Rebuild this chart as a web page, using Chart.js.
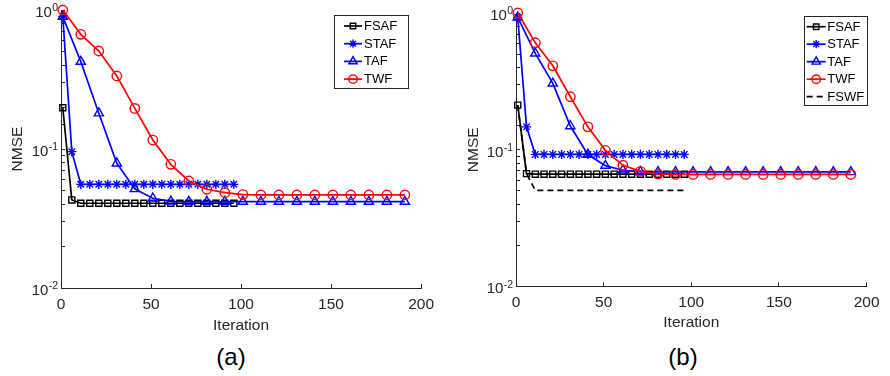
<!DOCTYPE html>
<html>
<head>
<meta charset="utf-8">
<script src="https://cdn.jsdelivr.net/npm/chart.js@4/dist/chart.umd.min.js"></script>
<style>
  html, body { margin: 0; padding: 0; background: #ffffff; }
  #wrap { position: relative; width: 890px; height: 376px; overflow: hidden; }
  canvas { position: absolute; top: 0; }
  .cap { position: absolute; font-family: "Liberation Sans", Arial, sans-serif; font-size: 24px; color: #000; transform: translate(-50%, -50%); white-space: nowrap; }
</style>
</head>
<body>
<div id="wrap">
  <canvas id="chartA" width="445" height="340" style="left:0px"></canvas>
  <canvas id="chartB" width="445" height="340" style="left:445px"></canvas>
  <div class="cap" style="left:231px; top:357px">(a)</div>
  <div class="cap" style="left:683px; top:357px">(b)</div>
</div>
<script>
// ---------------- data ----------------
const fastIter = [1, 6, 11, 16, 21, 26, 31, 36, 41, 46, 51, 56, 61, 66, 71, 76, 81, 86, 91, 96];
const slowIter = [1, 11, 21, 31, 41, 51, 61, 71, 81, 91, 101, 111, 121, 131, 141, 151, 161, 171, 181, 191];
const xTicks = [0, 50, 100, 150, 200];
const yTickValues = [0.01, 0.1, 1];
const yTickBases = ['10', '10', '10'];
const yTickExponents = ['-2', '-1', '0'];
const seriesNamesA = ['FSAF', 'STAF', 'TAF', 'TWF'];
const seriesNamesB = ['FSAF', 'STAF', 'TAF', 'TWF', 'FSWF'];

// (a)
const fsafA = [0.198, 0.0430, 0.0407, 0.0407, 0.0407, 0.0407, 0.0407, 0.0407, 0.0407, 0.0407, 0.0407, 0.0407, 0.0407, 0.0407, 0.0407, 0.0407, 0.0407, 0.0407, 0.0407, 0.0407];
const stafA = [0.90, 0.0957, 0.0557, 0.0557, 0.0557, 0.0557, 0.0557, 0.0557, 0.0557, 0.0557, 0.0557, 0.0557, 0.0557, 0.0557, 0.0557, 0.0557, 0.0557, 0.0557, 0.0557, 0.0557];
const tafA  = [0.895, 0.425, 0.181, 0.0789, 0.0516, 0.0442, 0.0420, 0.0418, 0.0418, 0.0418, 0.0418, 0.0418, 0.0418, 0.0418, 0.0418, 0.0418, 0.0418, 0.0418, 0.0418, 0.0418];
const twfA  = [1.0, 0.668, 0.507, 0.335, 0.196, 0.116, 0.0776, 0.0589, 0.0513, 0.0485, 0.0470, 0.0467, 0.0467, 0.0467, 0.0467, 0.0467, 0.0467, 0.0467, 0.0467, 0.0467];

// (b)
const fsafB = [0.212, 0.0669, 0.0663, 0.0663, 0.0663, 0.0663, 0.0663, 0.0663, 0.0663, 0.0663, 0.0663, 0.0663, 0.0663, 0.0663, 0.0663, 0.0663, 0.0663, 0.0663, 0.0663, 0.0663];
const stafB = [0.93, 0.147, 0.0925, 0.0925, 0.0925, 0.0925, 0.0925, 0.0925, 0.0925, 0.0925, 0.0925, 0.0925, 0.0925, 0.0925, 0.0925, 0.0925, 0.0925, 0.0925, 0.0925, 0.0925];
const tafB  = [0.93, 0.507, 0.306, 0.149, 0.0922, 0.0765, 0.0708, 0.0690, 0.0688, 0.0688, 0.0688, 0.0688, 0.0688, 0.0688, 0.0688, 0.0688, 0.0688, 0.0688, 0.0688, 0.0688];
const twfB  = [1.0, 0.606, 0.411, 0.244, 0.147, 0.099, 0.077, 0.0695, 0.0665, 0.0660, 0.0660, 0.0660, 0.0660, 0.0660, 0.0660, 0.0660, 0.0660, 0.0660, 0.0660, 0.0660];
const fswfB = [0.212, 0.0669, 0.0505, 0.0505, 0.0505, 0.0505, 0.0505, 0.0505, 0.0505, 0.0505, 0.0505, 0.0505, 0.0505, 0.0505, 0.0505, 0.0505, 0.0505, 0.0505, 0.0505, 0.0505];

// ---------------- styles ----------------
const FONT = '"Liberation Sans", Arial, Helvetica, sans-serif';
const AXIS = '#262626';
const STYLE = {
  FSAF: { color: '#000000', pointStyle: 'rect', radius: 4.3, dash: [] },
  STAF: { color: '#0000ff', pointStyle: 'star', radius: 4.6, dash: [] },
  TAF:  { color: '#0000ff', pointStyle: 'triangle', radius: 5.3, dash: [] },
  TWF:  { color: '#ff0000', pointStyle: 'circle', radius: 4.7, dash: [] },
  FSWF: { color: '#000000', pointStyle: 'circle', radius: 0, dash: [6, 4] }
};

function makeDataset(name, xs, ys, order) {
  const s = STYLE[name];
  return {
    label: name,
    data: xs.map((x, i) => ({ x: x, y: ys[i] })),
    borderColor: s.color,
    backgroundColor: 'rgba(0,0,0,0)',
    borderWidth: 1.7,
    borderDash: s.dash,
    pointStyle: s.pointStyle,
    pointRadius: s.radius,
    pointHoverRadius: s.radius,
    pointBorderWidth: 1.4,
    pointBorderColor: s.color,
    pointBackgroundColor: 'rgba(0,0,0,0)',
    tension: 0,
    clip: false,
    order: order
  };
}

// custom boxed legend drawn inside the plot (MATLAB style)
const boxLegend = {
  id: 'boxLegend',
  afterDatasetsDraw(chart, args, o) {
    if (!o || !o.names) return;
    const ctx = chart.ctx;
    ctx.save();
    ctx.fillStyle = '#ffffff';
    ctx.fillRect(o.x, o.y, o.w, o.h);
    ctx.strokeStyle = AXIS;
    ctx.lineWidth = 1;
    ctx.strokeRect(Math.round(o.x) + 0.5, Math.round(o.y) + 0.5, Math.round(o.w), Math.round(o.h));
    o.names.forEach((nm, i) => {
      const ds = chart.data.datasets.find(d => d.label === nm);
      const y = o.y + o.first + i * o.row;
      ctx.strokeStyle = ds.borderColor;
      ctx.lineWidth = ds.borderWidth;
      ctx.setLineDash(ds.borderDash || []);
      ctx.beginPath();
      ctx.moveTo(o.lx0, y);
      ctx.lineTo(o.lx1, y);
      ctx.stroke();
      ctx.setLineDash([]);
      if (ds.pointRadius > 0) {
        ctx.strokeStyle = ds.pointBorderColor;
        ctx.fillStyle = 'rgba(0,0,0,0)';
        ctx.lineWidth = ds.pointBorderWidth;
        Chart.helpers.drawPoint(ctx, { pointStyle: ds.pointStyle, radius: ds.pointRadius * 0.9, borderWidth: ds.pointBorderWidth, rotation: 0 }, (o.lx0 + o.lx1) / 2, y);
      }
      ctx.fillStyle = '#000000';
      ctx.font = '13px ' + FONT;
      ctx.textAlign = 'left';
      ctx.textBaseline = 'middle';
      ctx.fillText(nm, o.tx, y + 0.5);
    });
    ctx.restore();
  }
};

// y tick labels as 10 with a raised exponent, positioned by the library's log scale
const powerLabels = {
  id: 'powerLabels',
  afterDraw(chart) {
    const scale = chart.scales.y;
    const ctx = chart.ctx;
    ctx.save();
    ctx.fillStyle = AXIS;
    ctx.textAlign = 'right';
    ctx.textBaseline = 'alphabetic';
    yTickValues.forEach((v, i) => {
      const y = scale.getPixelForValue(v);
      const xr = scale.right - 3;
      ctx.font = '10.5px ' + FONT;
      const ew = ctx.measureText(yTickExponents[i]).width;
      ctx.fillText(yTickExponents[i], xr, y + 1);
      ctx.font = '15px ' + FONT;
      ctx.fillText(yTickBases[i], xr - ew - 0.3, y + 6.8);
    });
    ctx.restore();
  }
};

function makeOptions(cfg) {
  return {
    responsive: false,
    animation: false,
    events: [],
    layout: { padding: { left: 0, top: cfg.top, right: cfg.right, bottom: 0 } },
    plugins: {
      legend: { display: false },
      tooltip: { enabled: false },
      boxLegend: cfg.legend
    },
    scales: {
      x: {
        type: 'linear', min: 0, max: 200,
        afterBuildTicks: s => { s.ticks = xTicks.map(v => ({ value: v })); },
        afterFit: s => { s.height = cfg.xh; },
        grid: { drawOnChartArea: false, drawTicks: true, tickLength: -4, color: AXIS, lineWidth: 1 },
        border: { display: true, color: AXIS, width: 1 },
        ticks: { color: AXIS, font: { family: FONT, size: 15.5 }, padding: cfg.xTickPad, maxRotation: 0, autoSkip: false },
        title: { display: true, text: 'Iteration', color: AXIS, font: { family: FONT, size: 15.5 }, padding: { top: 0, bottom: cfg.xTitlePad } }
      },
      y: {
        type: 'logarithmic', min: 0.01, max: 1,
        afterFit: s => { s.width = cfg.yw; },
        grid: { drawOnChartArea: false, drawTicks: true, tickLength: -4, color: AXIS, lineWidth: 1 },
        border: { display: true, color: AXIS, width: 1 },
        ticks: { display: false, autoSkip: false },
        title: { display: true, text: 'NMSE', color: AXIS, font: { family: FONT, size: 15.5 }, padding: { top: cfg.yTitlePad, bottom: 0 } }
      }
    }
  };
}

new Chart(document.getElementById('chartA'), {
  type: 'line',
  data: {
    datasets: [
      makeDataset('FSAF', fastIter, fsafA, 4),
      makeDataset('STAF', fastIter, stafA, 3),
      makeDataset('TAF', slowIter, tafA, 2),
      makeDataset('TWF', slowIter, twfA, 1)
    ]
  },
  options: makeOptions({
    top: 10, right: 21, xh: 52, yw: 61, xTickPad: 11, xTitlePad: 5.2, yTitlePad: 8.7,
    legend: { names: seriesNamesA, x: 334, y: 15, w: 74, h: 73, first: 11, row: 17.7, lx0: 344, lx1: 362, tx: 364 }
  }),
  plugins: [boxLegend, powerLabels]
});

new Chart(document.getElementById('chartB'), {
  type: 'line',
  data: {
    datasets: [
      makeDataset('FSAF', fastIter, fsafB, 4),
      makeDataset('STAF', fastIter, stafB, 3),
      makeDataset('TAF', slowIter, tafB, 2),
      makeDataset('TWF', slowIter, twfB, 1),
      makeDataset('FSWF', fastIter, fswfB, 0)
    ]
  },
  options: makeOptions({
    top: 13, right: 14.5, xh: 53.5, yw: 71, xTickPad: 10.5, xTitlePad: 8.2, yTitlePad: 19.7,
    legend: { names: seriesNamesB, x: 359.3, y: 16, w: 63.4, h: 89.3, first: 10.7, row: 17.5, lx0: 361.7, lx1: 380.7, tx: 382.3 }
  }),
  plugins: [boxLegend, powerLabels]
});
</script>
</body>
</html>
